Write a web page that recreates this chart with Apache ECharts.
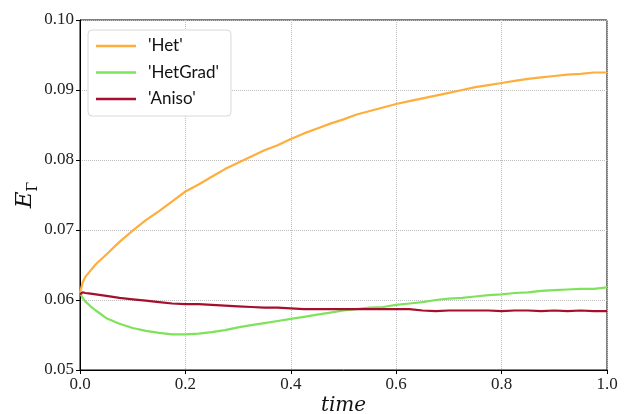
<!DOCTYPE html>
<html>
<head>
<meta charset="utf-8">
<script src="https://cdn.jsdelivr.net/npm/echarts@6/dist/echarts.min.js"></script>
<style>
html,body{margin:0;padding:0;background:#fff;}
#chart{width:628px;height:414px;}
</style>
</head>
<body>
<div id="chart"></div>
<script>
var time = [0, 0.005, 0.01, 0.02, 0.03, 0.05, 0.075, 0.1, 0.125, 0.15, 0.175, 0.2, 0.225, 0.25, 0.275, 0.3, 0.325, 0.35, 0.375, 0.4, 0.425, 0.45, 0.475, 0.5, 0.525, 0.55, 0.575, 0.6, 0.625, 0.65, 0.675, 0.7, 0.725, 0.75, 0.775, 0.8, 0.825, 0.85, 0.875, 0.9, 0.925, 0.95, 0.975, 1.0];
var het = [0.0610, 0.0625, 0.0633, 0.0642, 0.0651, 0.0665, 0.0683, 0.0699, 0.0714, 0.0727, 0.0741, 0.0755, 0.0765, 0.0776, 0.0787, 0.0796, 0.0805, 0.0814, 0.0821, 0.0830, 0.0838, 0.0845, 0.0852, 0.0858, 0.0865, 0.0870, 0.0875, 0.0880, 0.0884, 0.0888, 0.0892, 0.0896, 0.0900, 0.0904, 0.0907, 0.0910, 0.0913, 0.0916, 0.0918, 0.0920, 0.0922, 0.0923, 0.0925, 0.0925];
var hetGrad = [0.0610, 0.0603, 0.0598, 0.0591, 0.0585, 0.0574, 0.0566, 0.0560, 0.0556, 0.0553, 0.0551, 0.0551, 0.0552, 0.0554, 0.0557, 0.0561, 0.0564, 0.0567, 0.0570, 0.0573, 0.0576, 0.0579, 0.0582, 0.0585, 0.0587, 0.0589, 0.0590, 0.0593, 0.0595, 0.0597, 0.0600, 0.0602, 0.0603, 0.0605, 0.0607, 0.0608, 0.0610, 0.0611, 0.0613, 0.0614, 0.0615, 0.0616, 0.0616, 0.0618];
var aniso = [0.0608, 0.0611, 0.0610, 0.0609, 0.0608, 0.0606, 0.0603, 0.0601, 0.0599, 0.0597, 0.0595, 0.0594, 0.0594, 0.0593, 0.0592, 0.0591, 0.0590, 0.0589, 0.0589, 0.0588, 0.0587, 0.0587, 0.0587, 0.0587, 0.0587, 0.0587, 0.0587, 0.0587, 0.0587, 0.0585, 0.0584, 0.0585, 0.0585, 0.0585, 0.0585, 0.0584, 0.0585, 0.0585, 0.0584, 0.0585, 0.0584, 0.0585, 0.0584, 0.0584];
var seriesNames = ["'Het'", "'HetGrad'", "'Aniso'"];
var xTicks = [0, 0.2, 0.4, 0.6, 0.8, 1.0];
var yTicks = [0.05, 0.06, 0.07, 0.08, 0.09, 0.10];

function pairs(ys) { return time.map(function (t, i) { return [t, ys[i]]; }); }

var chart = echarts.init(document.getElementById('chart'), null, {renderer: 'canvas'});
var serifTick = {fontFamily: 'Liberation Serif', fontSize: 17, color: '#222'};
var option = {
  animation: false,
  backgroundColor: '#fff',
  grid: {left: 80, right: 21, top: 20, bottom: 44, show: true, borderColor: '#000', borderWidth: 1, containLabel: false, outerBoundsMode: 'none'},
  legend: {
    orient: 'vertical', left: 88, top: 30,
    backgroundColor: '#fff', borderColor: '#d8d8d8', borderWidth: 1, borderRadius: 4,
    padding: [6, 12, 7, 8], itemGap: 6.5, itemWidth: 40, itemHeight: 2.5, icon: 'rect',
    textStyle: {fontFamily: 'Lato', fontSize: 17, color: '#111', lineHeight: 20, padding: [0, 0, 0, 7]},
    data: seriesNames
  },
  xAxis: {
    type: 'value', min: 0, max: 1, interval: 0.2,
    name: 'time', nameLocation: 'middle', nameGap: 26, nameMoveOverlap: false,
    nameTextStyle: {fontFamily: 'DejaVu Serif', fontStyle: 'italic', fontSize: 20, color: '#111'},
    axisLine: {show: true, lineStyle: {color: '#000', width: 1}},
    axisTick: {show: true, inside: false, length: 4, lineStyle: {color: '#000'}},
    axisLabel: Object.assign({margin: 6, formatter: function (v) { return v.toFixed(1); }}, serifTick),
    splitLine: {show: true, lineStyle: {type: 'dotted', color: '#bdbdbd', width: 1}}
  },
  yAxis: {
    type: 'value', min: 0.05, max: 0.10, interval: 0.01,
    name: '{e|E}{s|Γ}', nameLocation: 'middle', nameGap: 40, nameMoveOverlap: false,
    nameTextStyle: {
      rich: {
        e: {fontFamily: 'DejaVu Serif', fontStyle: 'italic', fontSize: 23, color: '#111', lineHeight: 30, verticalAlign: 'middle'},
        s: {fontFamily: 'DejaVu Serif', fontSize: 14, color: '#111', lineHeight: 17, verticalAlign: 'bottom'}
      }
    },
    axisLine: {show: true, lineStyle: {color: '#000', width: 1}},
    axisTick: {show: true, inside: false, length: 4, lineStyle: {color: '#000'}},
    axisLabel: Object.assign({margin: 6, formatter: function (v) { return v.toFixed(2); }}, serifTick),
    splitLine: {show: true, lineStyle: {type: 'dotted', color: '#bdbdbd', width: 1}}
  },
  series: [
    {name: seriesNames[0], type: 'line', data: pairs(het), symbol: 'none', lineStyle: {color: '#FFAD3D', width: 2.2}, itemStyle: {color: '#FFAD3D'}, z: 3},
    {name: seriesNames[1], type: 'line', data: pairs(hetGrad), symbol: 'none', lineStyle: {color: '#7EE25B', width: 2.2}, itemStyle: {color: '#7EE25B'}, z: 4},
    {name: seriesNames[2], type: 'line', data: pairs(aniso), symbol: 'none', lineStyle: {color: '#A50F2C', width: 2.2}, itemStyle: {color: '#A50F2C'}, z: 5}
  ]
};
chart.setOption(option);
</script>
</body>
</html>
